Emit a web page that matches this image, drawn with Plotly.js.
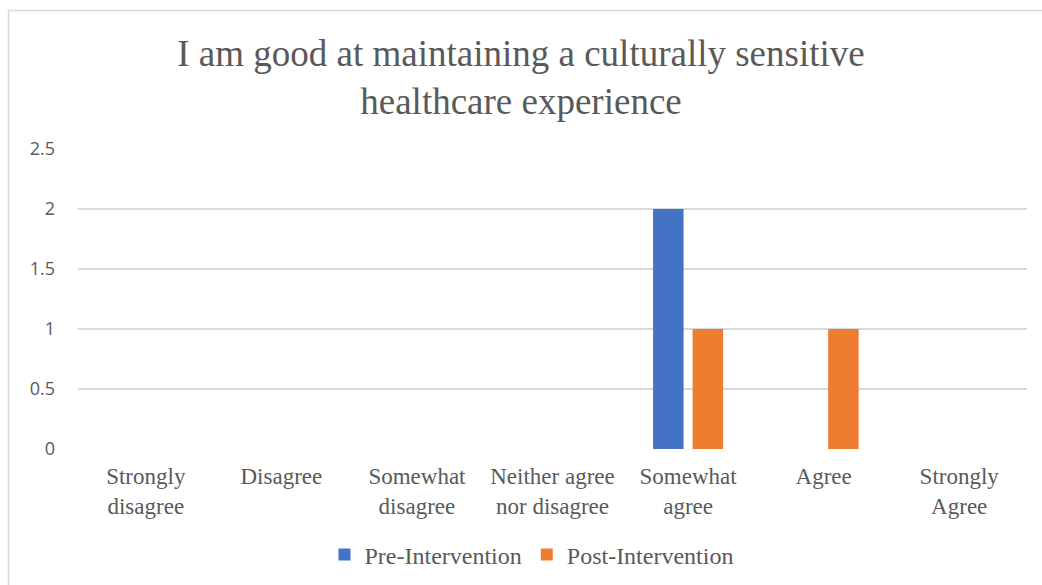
<!DOCTYPE html>
<html>
<head>
<meta charset="utf-8">
<script src="https://cdn.plot.ly/plotly-3.0.1.min.js"></script>
<style>
  html, body { margin: 0; padding: 0; background: #fff; }
  #chart { width: 1042px; height: 585px; }
</style>
</head>
<body>
<div id="chart"></div>
<script>
// Likert responses, pre vs post intervention
const categories = [
  'Strongly<br>disagree',
  'Disagree',
  'Somewhat<br>disagree',
  'Neither agree<br>nor disagree',
  'Somewhat<br>agree',
  'Agree',
  'Strongly<br>Agree'
];
const preValues = [0, 0, 0, 0, 2, 0, 0];
const postValues = [0, 0, 0, 0, 1, 1, 0];
const yTicks = [0, 0.5, 1, 1.5, 2, 2.5];

const SERIF_FAMILY = 'Liberation Serif';
const SANS_FAMILY = 'Open Sans';
const textGray = '#595959';

// plot-area geometry in pixels, used to place the frame lines
const W = 1042, H = 585;
const M = { l: 78, r: 15, t: 149, b: 136 };
const pw = W - M.l - M.r, ph = H - M.t - M.b;
const px = v => (v - M.l) / pw;
const py = v => (H - M.b - v) / ph;

const traces = [
  {
    type: 'bar', name: 'Pre-Intervention',
    x: categories, y: preValues,
    marker: { color: '#4472C4' }
  },
  {
    type: 'bar', name: 'Post-Intervention',
    x: categories, y: postValues,
    marker: { color: '#ED7D31' }
  }
];

const layout = {
  width: W, height: H,
  margin: M,
  font: { family: SERIF_FAMILY, color: textGray },
  paper_bgcolor: '#fff', plot_bgcolor: '#fff',
  barmode: 'group',
  bargap: 0.417,
  bargroupgap: 0.228,
  title: {
    text: 'I am good at maintaining a culturally sensitive<br>healthcare experience',
    font: { family: SERIF_FAMILY, size: 37, color: textGray },
    x: 0.5, xanchor: 'center',
    y: 1 - 66 / H, yanchor: 'bottom',
    automargin: false
  },
  xaxis: {
    type: 'category',
    automargin: false,
    showgrid: false, zeroline: false,
    showline: false, ticks: '',
    tickfont: { family: SERIF_FAMILY, size: 23, color: textGray },
    ticklabelstandoff: 11,
    fixedrange: true
  },
  yaxis: {
    range: [0, 2.5],
    automargin: false,
    tickvals: yTicks,
    ticktext: yTicks.map(String),
    showgrid: true, gridcolor: '#d9d9d9', gridwidth: 1.5,
    zeroline: false, showline: false, ticks: '',
    tickfont: { family: SANS_FAMILY, size: 18, color: textGray },
    ticklabelstandoff: 22,
    fixedrange: true
  },
  showlegend: true,
  legend: {
    orientation: 'h',
    xref: 'container', yref: 'container',
    x: 531.5 / W, xanchor: 'center',
    y: 1 - 555 / H, yanchor: 'middle',
    font: { family: SERIF_FAMILY, size: 24, color: textGray },
    itemwidth: 30,
    traceorder: 'normal'
  },
  shapes: [
    { type: 'line', xref: 'paper', yref: 'paper',
      x0: px(8.5), x1: px(8.5), y0: py(10.5), y1: py(H + 5),
      line: { color: '#d9d9d9', width: 1.5 } },
    { type: 'line', xref: 'paper', yref: 'paper',
      x0: px(8.5), x1: px(W + 5), y0: py(10.5), y1: py(10.5),
      line: { color: '#d9d9d9', width: 1.5 } }
  ]
};

Plotly.newPlot('chart', traces, layout, { displayModeBar: false });
</script>
</body>
</html>
